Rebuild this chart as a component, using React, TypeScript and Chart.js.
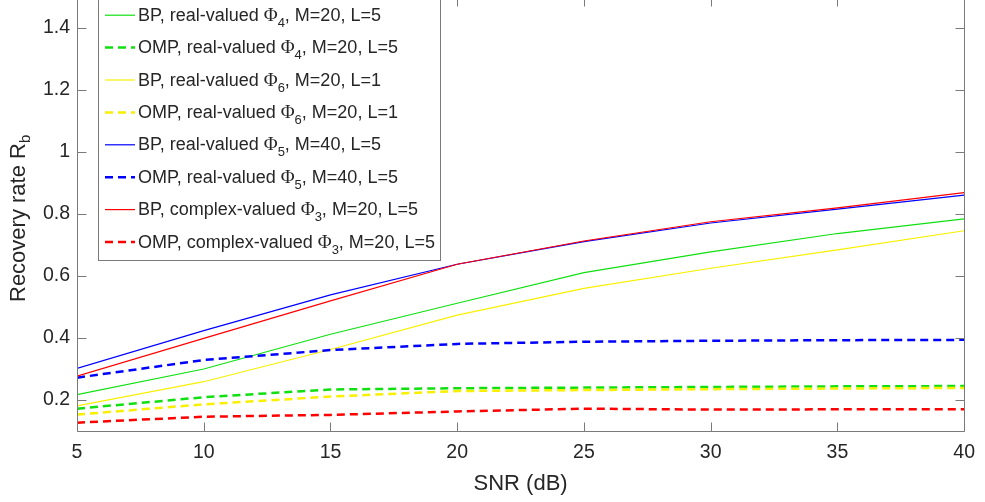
import React, { useEffect, useRef } from 'react';
import { Chart, registerables } from 'chart.js';

Chart.register(...registerables);

// ---------- data ----------
const snrDb = [5, 10, 15, 20, 25, 30, 35, 40];
const bpReal4 = [0.217, 0.300, 0.412, 0.512, 0.611, 0.678, 0.737, 0.784];
const ompReal4 = [0.172, 0.209, 0.234, 0.238, 0.240, 0.242, 0.244, 0.245];
const bpReal6 = [0.181, 0.259, 0.363, 0.474, 0.560, 0.625, 0.684, 0.746];
const ompReal6 = [0.153, 0.186, 0.211, 0.229, 0.232, 0.235, 0.237, 0.239];
const bpReal5 = [0.302, 0.424, 0.539, 0.638, 0.711, 0.771, 0.816, 0.861];
const ompReal5 = [0.272, 0.329, 0.361, 0.381, 0.388, 0.391, 0.393, 0.394];
const bpComplex3 = [0.277, 0.399, 0.520, 0.638, 0.713, 0.775, 0.820, 0.869];
const ompComplex3 = [0.127, 0.146, 0.152, 0.163, 0.172, 0.169, 0.170, 0.170];

const xTicks = [5, 10, 15, 20, 25, 30, 35, 40];
const yTicks = [0.2, 0.4, 0.6, 0.8, 1, 1.2, 1.4];
const xMin = 5;
const xMax = 40;
const yMin = 0.1;
const yMax = 1.5;

const xTitle = 'SNR (dB)';
const yTitleMain = 'Recovery rate R';
const yTitleSub = 'b';

// legend label pieces: [before Φ, subscript, after]
const legendPrefix = [
  'BP, real-valued ',
  'OMP, real-valued ',
  'BP, real-valued ',
  'OMP, real-valued ',
  'BP, real-valued ',
  'OMP, real-valued ',
  'BP, complex-valued ',
  'OMP, complex-valued ',
];
const legendSub = ['4', '4', '6', '6', '5', '5', '3', '3'];
const legendSuffix = [
  ', M=20, L=5',
  ', M=20, L=5',
  ', M=20, L=1',
  ', M=20, L=1',
  ', M=40, L=5',
  ', M=40, L=5',
  ', M=20, L=5',
  ', M=20, L=5',
];

// ---------- style ----------
const GREEN = '#10e010';
const YELLOW = '#f8f000';
const BLUE = '#0000ff';
const RED = '#ff0000';
const seriesValues = [bpReal4, ompReal4, bpReal6, ompReal6, bpReal5, ompReal5, bpComplex3, ompComplex3];
const seriesColors = [GREEN, GREEN, YELLOW, YELLOW, BLUE, BLUE, RED, RED];
const seriesDashed = [false, true, false, true, false, true, false, true];

const FONT = '"Liberation Sans", Arial, Helvetica, sans-serif';
const SERIF = '"Liberation Serif", "Times New Roman", serif';
const TEXT_COLOR = '#262626';
const AXIS_COLOR = '#7a7a7a';
const OFFSET = 23; // canvas shifted up so the axes top lies just above the window
const W = 985;
const H = 502 + OFFSET;
const DASH = [8, 5];

const overlayPlugin = {
  id: 'matlabOverlay',
  afterDatasetsDraw(chart: any) {
    const ctx = chart.ctx as CanvasRenderingContext2D;
    const { left, right, top, bottom } = chart.chartArea;
    const xs = chart.scales.x;
    const ys = chart.scales.y;
    const L = Math.round(left) + 0.5;
    const R = Math.round(right) + 0.5;
    const T = Math.round(top) + 0.5;
    const B = Math.round(bottom) + 0.5;
    ctx.save();
    ctx.strokeStyle = AXIS_COLOR;
    ctx.lineWidth = 1;
    ctx.setLineDash([]);
    ctx.beginPath();
    ctx.moveTo(L, T);
    ctx.lineTo(R, T);
    ctx.lineTo(R, B);
    ctx.lineTo(L, B);
    ctx.closePath();
    ctx.stroke();
    const tl = 9;
    ctx.beginPath();
    yTicks.forEach((v) => {
      const p = Math.round(ys.getPixelForValue(v)) + 0.5;
      ctx.moveTo(L, p);
      ctx.lineTo(L + tl, p);
      ctx.moveTo(R, p);
      ctx.lineTo(R - tl, p);
    });
    xTicks.forEach((v) => {
      const p = Math.round(xs.getPixelForValue(v)) + 0.5;
      ctx.moveTo(p, B);
      ctx.lineTo(p, B - tl);
      ctx.moveTo(p, T);
      ctx.lineTo(p, T + tl);
    });
    ctx.stroke();
    ctx.restore();
  },
  afterDraw(chart: any) {
    const ctx = chart.ctx as CanvasRenderingContext2D;
    const { left, right } = chart.chartArea;
    ctx.save();
    // ---- legend ----
    const boxL = left + 21.5;
    const boxR = left + 363.5;
    const boxT = OFFSET - 5 + 0.5;
    const boxB = OFFSET + 260 + 0.5;
    ctx.fillStyle = '#ffffff';
    ctx.fillRect(boxL, boxT, boxR - boxL, boxB - boxT);
    ctx.strokeStyle = AXIS_COLOR;
    ctx.lineWidth = 1;
    ctx.strokeRect(boxL, boxT, boxR - boxL, boxB - boxT);
    for (let i = 0; i < legendPrefix.length; i++) {
      const base = OFFSET + 20.7 + i * 32.4;
      const ly = base - 5.5;
      ctx.strokeStyle = seriesColors[i];
      ctx.lineWidth = seriesDashed[i] ? 2.5 : 1.2;
      ctx.setLineDash(seriesDashed[i] ? DASH : []);
      ctx.beginPath();
      ctx.moveTo(left + 28, ly);
      ctx.lineTo(left + 58, ly);
      ctx.stroke();
      ctx.setLineDash([]);
      ctx.fillStyle = TEXT_COLOR;
      ctx.textBaseline = 'alphabetic';
      ctx.textAlign = 'left';
      let x = left + 61;
      ctx.font = `18px ${FONT}`;
      ctx.fillText(legendPrefix[i], x, base);
      x += ctx.measureText(legendPrefix[i]).width;
      ctx.font = `19px ${SERIF}`;
      ctx.fillText('\u03A6', x, base);
      x += ctx.measureText('\u03A6').width;
      ctx.font = `13px ${FONT}`;
      ctx.fillText(legendSub[i], x, base + 6);
      x += ctx.measureText(legendSub[i]).width;
      ctx.font = `18px ${FONT}`;
      ctx.fillText(legendSuffix[i], x, base);
    }
    // ---- axis titles ----
    ctx.fillStyle = TEXT_COLOR;
    ctx.font = `22px ${FONT}`;
    ctx.textAlign = 'center';
    ctx.textBaseline = 'alphabetic';
    ctx.fillText(xTitle, (left + right) / 2, OFFSET + 490);

    ctx.translate(25, OFFSET + 302);
    ctx.rotate(-Math.PI / 2);
    ctx.textAlign = 'left';
    ctx.font = `22px ${FONT}`;
    ctx.fillText(yTitleMain, 0, 0);
    const w = ctx.measureText(yTitleMain).width;
    ctx.font = `15px ${FONT}`;
    ctx.fillText(yTitleSub, w, 5);
    ctx.restore();
  },
};

export default function App() {
  const ref = useRef<HTMLCanvasElement | null>(null);
  useEffect(() => {
    if (!ref.current) return;
    const datasets = seriesValues.map((vals, i) => ({
      label: legendPrefix[i] + 'Φ' + legendSub[i] + legendSuffix[i],
      data: snrDb.map((x, j) => ({ x, y: vals[j] })),
      borderColor: seriesColors[i],
      backgroundColor: seriesColors[i],
      borderWidth: seriesDashed[i] ? 2.5 : 1.2,
      borderDash: seriesDashed[i] ? DASH : [],
      pointRadius: 0,
      tension: 0,
      fill: false,
      order: seriesValues.length - i,
    }));
    const chart = new Chart(ref.current, {
      type: 'line',
      data: { datasets },
      plugins: [overlayPlugin],
      options: {
        animation: false,
        responsive: false,
        devicePixelRatio: 1,
        layout: { padding: { top: 20, right: 16, left: 0, bottom: 0 } },
        plugins: { legend: { display: false }, tooltip: { enabled: false } },
        scales: {
          x: {
            type: 'linear',
            min: xMin,
            max: xMax,
            afterBuildTicks: (s: any) => {
              s.ticks = xTicks.map((v) => ({ value: v }));
            },
            afterFit: (s: any) => {
              s.height = 71;
            },
            grid: { display: false, drawTicks: false },
            border: { display: false },
            ticks: {
              color: TEXT_COLOR,
              font: { family: FONT, size: 19.5 },
              padding: 10,
              maxRotation: 0,
              callback: (v: any) => String(v),
            },
          },
          y: {
            type: 'linear',
            min: yMin,
            max: yMax,
            afterBuildTicks: (s: any) => {
              s.ticks = yTicks.map((v) => ({ value: v }));
            },
            afterFit: (s: any) => {
              s.width = 77;
            },
            grid: { display: false, drawTicks: false },
            border: { display: false },
            ticks: {
              color: TEXT_COLOR,
              font: { family: FONT, size: 19.5 },
              padding: 7,
              callback: (v: any) => String(Math.round(v * 10) / 10),
            },
          },
        },
      },
    });
    return () => chart.destroy();
  }, []);
  return (
    <div style={{ position: 'absolute', left: 0, top: -OFFSET, width: W, height: H, overflow: 'hidden' }}>
      <canvas ref={ref} width={W} height={H} style={{ display: 'block', width: W, height: H }} />
    </div>
  );
}
